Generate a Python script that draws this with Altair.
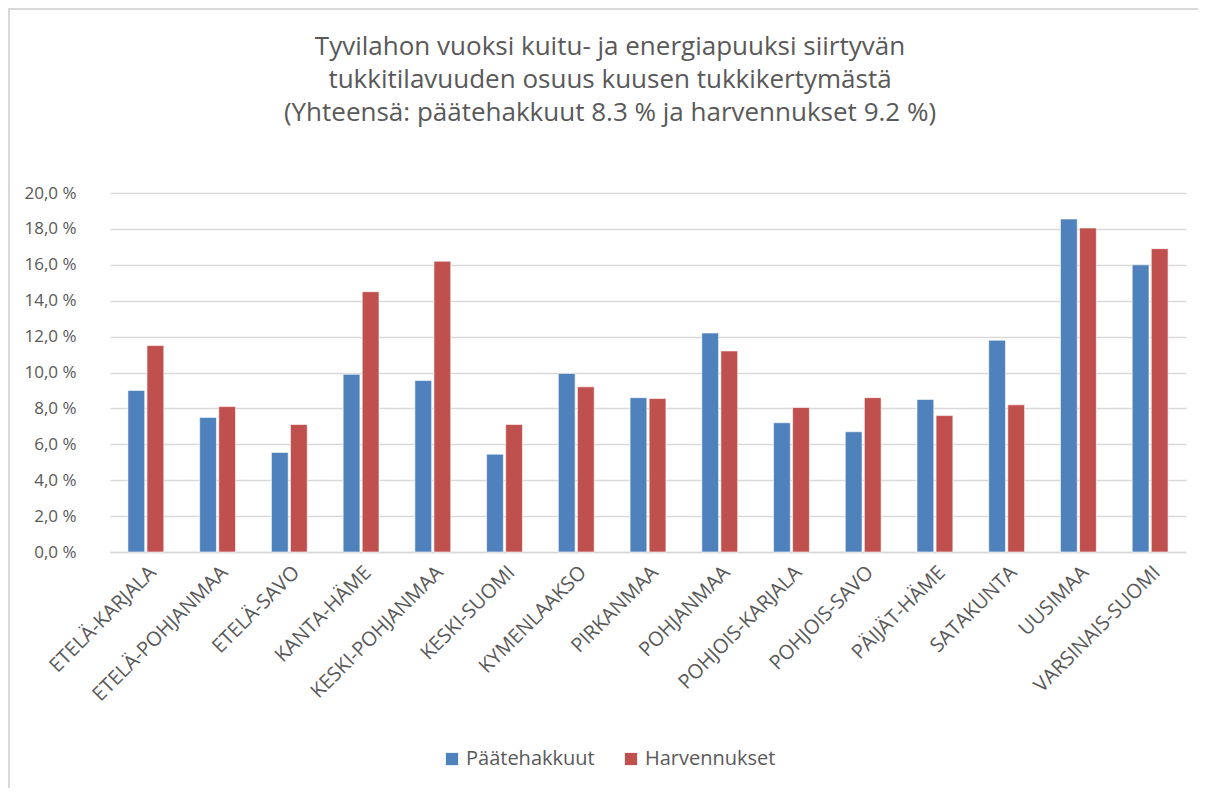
import altair as alt
import pandas as pd

regions = ["ETELÄ-KARJALA", "ETELÄ-POHJANMAA", "ETELÄ-SAVO", "KANTA-HÄME",
           "KESKI-POHJANMAA", "KESKI-SUOMI", "KYMENLAAKSO", "PIRKANMAA",
           "POHJANMAA", "POHJOIS-KARJALA", "POHJOIS-SAVO", "PÄIJÄT-HÄME",
           "SATAKUNTA", "UUSIMAA", "VARSINAIS-SUOMI"]
paatehakkuut = [9.0, 7.5, 5.55, 9.9, 9.55, 5.45, 9.95, 8.6, 12.2, 7.2, 6.7, 8.5, 11.8, 18.55, 16.0]
harvennukset = [11.5, 8.1, 7.1, 14.5, 16.2, 7.1, 9.2, 8.55, 11.2, 8.05, 8.6, 7.6, 8.2, 18.05, 16.9]
series = ["Päätehakkuut", "Harvennukset"]
colors = ["#4f81bd", "#c0504d"]
title_lines = ["Tyvilahon vuoksi kuitu- ja energiapuuksi siirtyvän",
               "tukkitilavuuden osuus kuusen tukkikertymästä",
               "(Yhteensä: päätehakkuut 8.3 % ja harvennukset 9.2 %)"]

rows = []
for i, r in enumerate(regions):
    rows.append({"region": r, "series": series[0], "value": paatehakkuut[i], "order": 0})
    rows.append({"region": r, "series": series[1], "value": harvennukset[i], "order": 1})
df = pd.DataFrame(rows)

font = "Open Sans"
grey = "#595959"
W, H = 1076, 359

bars = alt.Chart(df).mark_bar(stroke="white", strokeWidth=0.6).encode(
    x=alt.X("region:N", sort=regions, title=None,
            scale=alt.Scale(paddingInner=0.5, paddingOuter=0.25),
            axis=alt.Axis(labelAngle=-45, labelFontSize=20, labelColor=grey, labelFont=font,
                          ticks=False, domain=True, domainColor="#d9d9d9", domainWidth=1.5,
                          labelPadding=10, labelLimit=400)),
    xOffset=alt.XOffset("series:N", sort=series, scale=alt.Scale(paddingInner=0.12)),
    y=alt.Y("value:Q", title=None, scale=alt.Scale(domain=[0, 20], nice=False),
            axis=alt.Axis(values=list(range(0, 21, 2)),
                          labelExpr="replace(format(datum.value, '.1f'), '.', ',') + ' %'",
                          labelFontSize=17, labelColor=grey, labelFont=font, labelPadding=34,
                          ticks=False, domain=False, gridColor="#d9d9d9", gridWidth=1.5)),
    color=alt.Color("series:N", sort=series, scale=alt.Scale(domain=series, range=colors),
                    legend=alt.Legend(title=None, orient="none", direction="horizontal",
                                      legendX=332, legendY=556, symbolType="square",
                                      symbolSize=150, labelFontSize=20, labelColor=grey,
                                      labelFont=font, columnPadding=26, symbolStrokeWidth=0)),
    order=alt.Order("order:Q"),
)

one = alt.Data(values=[{}])
title_text = alt.Chart(one).mark_text(
    font=font, fontSize=26, color=grey, align="center", baseline="middle",
    lineBreak="\n", lineHeight=33,
).encode(x=alt.value(500), y=alt.value(-146), text=alt.value("\n".join(title_lines)))

frame_top = alt.Chart(one).mark_rule(color="#d9d9d9", strokeWidth=2).encode(
    x=alt.value(-102), x2=alt.value(W + 20), y=alt.value(-184))
frame_left = alt.Chart(one).mark_rule(color="#d9d9d9", strokeWidth=2).encode(
    x=alt.value(-101), y=alt.value(-185), y2=alt.value(H + 236))

chart = alt.layer(bars, title_text, frame_top, frame_left).properties(
    width=W, height=H,
    autosize=alt.AutoSizeParams(type="none"),
    padding={"left": 102, "top": 185, "right": 12, "bottom": 236},
).configure(background="white").configure_view(stroke=None)

chart.save("out.html", embed_options={"renderer": "svg", "actions": False})
